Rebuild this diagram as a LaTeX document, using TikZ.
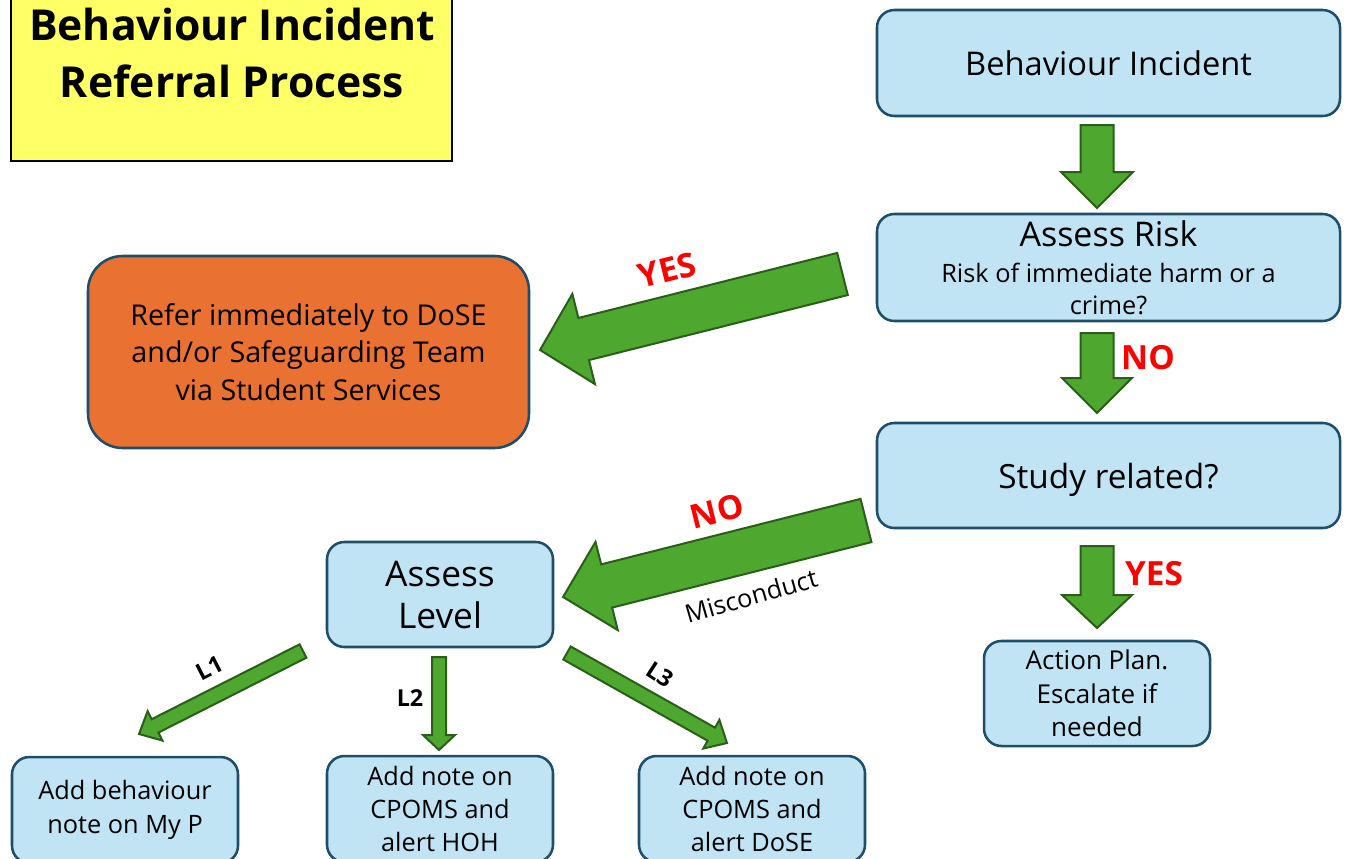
\documentclass[tikz,border=0pt]{standalone}
\usepackage{fontspec}
\setmainfont{Open Sans}
\usetikzlibrary{calc}
\definecolor{boxfill}{HTML}{C1E4F5}
\definecolor{boxline}{HTML}{1E4E69}
\definecolor{orangefill}{HTML}{E97132}
\definecolor{titlefill}{HTML}{FFFF66}
\definecolor{arrfill}{HTML}{4EA72E}
\definecolor{arrline}{HTML}{2A5E19}
\definecolor{lblred}{HTML}{FF0000}
\newcommand\fs[2]{\fontsize{#1}{#2}\selectfont}
\tikzset{
  sz/.style 2 args={minimum width=#1*0.75pt, minimum height=#2*0.75pt},
  procbox/.style={draw=boxline, fill=boxfill, line width=1.9pt, rounded corners=13pt, inner sep=0pt, align=center},
  referbox/.style={draw=boxline, fill=orangefill, line width=1.9pt, rounded corners=26pt, inner sep=0pt, align=center},
  titlebox/.style={draw=black, fill=titlefill, line width=2.2pt, inner sep=0pt},
  blockarr/.style={draw=arrline, fill=arrfill, line width=1.5pt, line join=miter},
  yesno/.style={text=lblred, font=\bfseries\fs{25}{28}, inner sep=0pt},
  lvl/.style={font=\bfseries\fs{17.5}{20}, inner sep=0pt},
}
% tail coordinate, tip coordinate, shaft half width (px), head half width (px), head length (px)
\newcommand\blockarrow[5]{%
  \path let \p1=(#1), \p2=(#2) in \pgfextra{\xdef\baxa{\x1}\xdef\baya{\y1}\xdef\baxb{\x2}\xdef\bayb{\y2}};
  \pgfmathsetmacro\baang{atan2(\bayb-\baya,\baxb-\baxa)}%
  \pgfmathsetmacro\balen{veclen(\baxb-\baxa,\bayb-\baya)}%
  \pgfmathsetmacro\bah{\balen-#5*0.75}%
  \pgfmathsetmacro\bas{#3*0.75}%
  \pgfmathsetmacro\bahw{#4*0.75}%
  \begin{scope}[shift={(#1)}, rotate=\baang, x=1pt, y=1pt]
    \draw[blockarr] (0,-\bas) -- (\bah,-\bas) -- (\bah,-\bahw) -- (\balen,0) -- (\bah,\bahw) -- (\bah,\bas) -- (0,\bas) -- cycle;
  \end{scope}}
\begin{document}
\begin{tikzpicture}[x=0.75pt,y=-0.75pt]
\useasboundingbox (0,0) rectangle (1351,858);
\clip (0,0) rectangle (1351,858);
\fill[white] (0,0) rectangle (1351,858);

% title
\node[titlebox, sz={441}{181}] (title) at (231.5,70.5) {};
\node[font=\bfseries\fs{32}{42.75}, align=center, inner sep=0pt] (titletext) at (232,53) {Behaviour Incident\\Referral Process};

% right column
\node[procbox, sz={463}{106}, font=\fs{24.5}{28}] (incident) at (1108.5,63) {Behaviour Incident};
\node[procbox, sz={463}{107}, font=\fs{19}{24}] (risk) at (1108.5,267.5) {{\fs{25.5}{28}Assess Risk}\\[3pt]Risk of immediate harm or a\\crime?};
\node[procbox, sz={463}{105}, font=\fs{25}{28}, text depth=0pt] (study) at (1108.5,475.5) {Study related?};
\node[procbox, sz={226}{105}, font=\fs{19.5}{25}] (action) at (1097,693.5) {Action Plan.\\Escalate if\\needed};

% left
\node[referbox, sz={441}{192}, font=\fs{21.5}{28}] (refer) at (308.5,352) {Refer immediately to DoSE\\and/or Safeguarding Team\\via Student Services};
\node[procbox, sz={226}{105}, font=\fs{26.5}{31.5}] (level) at (440,594.5) {Assess\\Level};
\node[procbox, sz={226}{106}, font=\fs{19}{25}] (l1box) at (125,810) {Add behaviour\\note on My P};
\node[procbox, sz={226}{106}, font=\fs{19}{25}] (l2box) at (440,809) {Add note on\\CPOMS and\\alert HOH};
\node[procbox, sz={226}{106}, font=\fs{19}{25}] (l3box) at (752,809) {Add note on\\CPOMS and\\alert DoSE};

% arrow end points
\coordinate (aTail) at (1097,125);   \coordinate (aTip) at (1097,208);
\coordinate (bTail) at (1097,333);   \coordinate (bTip) at (1097,413);
\coordinate (cTail) at (1097,546);   \coordinate (cTip) at (1097,628);
\coordinate (yTail) at (842.5,274);  \coordinate (yTip) at (540,350);
\coordinate (nTail) at (866,520.5);  \coordinate (nTip) at (563,597);
\coordinate (l1Tail) at (303,651);   \coordinate (l1Tip) at (139,734);
\coordinate (l2Tail) at (439,657);   \coordinate (l2Tip) at (439,750);
\coordinate (l3Tail) at (567,653);   \coordinate (l3Tip) at (727,743);

\blockarrow{aTail}{aTip}{16.5}{36}{36}
\blockarrow{bTail}{bTip}{16.5}{35}{35}
\blockarrow{cTail}{cTip}{16.5}{35}{33}
\blockarrow{yTail}{yTip}{21.7}{46.5}{45}
\blockarrow{nTail}{nTip}{22.3}{45.5}{45}
\blockarrow{l1Tail}{l1Tip}{7.5}{16.5}{18}
\blockarrow{l2Tail}{l2Tip}{7}{16}{15}
\blockarrow{l3Tail}{l3Tip}{7.5}{16.5}{18}

% labels
\node[yesno] (lblno1) at (1148,358) {NO};
\node[yesno] (lblyes2) at (1154,574) {YES};
\node[yesno, rotate=14] (lblyes1) at (667,270) {YES};
\node[yesno, rotate=14] (lblno2) at (717,511) {NO};
\node[font=\fs{19}{20}, rotate=16, inner sep=0pt] (misc) at (751,596) {Misconduct};
\node[lvl, rotate=27] (lvl1) at (210,668) {L1};
\node[lvl] (lvl2) at (410,698) {L2};
\node[lvl, rotate=-33] (lvl3) at (660,675) {L3};
\end{tikzpicture}
\end{document}
